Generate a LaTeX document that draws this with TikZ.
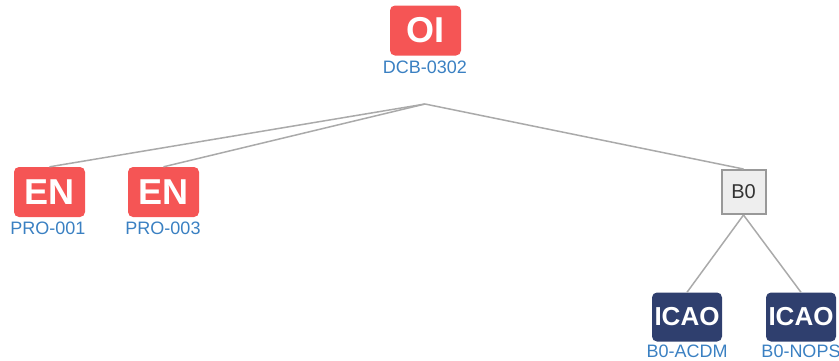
\documentclass[tikz,border=0pt]{standalone}
\usepackage{fontspec}
\setmainfont{Liberation Sans}
\definecolor{redbox}{HTML}{F55555}
\definecolor{navybox}{HTML}{2F3F6E}
\definecolor{lblue}{HTML}{3A80C2}
\definecolor{edgegray}{HTML}{AAAAAA}
\definecolor{bzfill}{HTML}{EEEEEE}
\definecolor{bzdraw}{HTML}{999999}
\begin{document}
\begin{tikzpicture}[x=1pt,y=-1pt,
  redstd/.style={fill=redbox,rounded corners=5pt,minimum width=71pt,minimum height=50pt,inner sep=0pt,text=white,font=\fontsize{36}{36}\selectfont\bfseries},
  navystd/.style={fill=navybox,rounded corners=5pt,minimum width=70pt,minimum height=49pt,inner sep=0pt,text=white,font=\fontsize{26}{26}\selectfont\bfseries},
  grpbox/.style={fill=bzfill,draw=bzdraw,line width=2pt,minimum width=44pt,minimum height=44pt,inner sep=0pt,font=\fontsize{20}{20}\selectfont,text=black!80},
  lbl/.style={text=lblue,inner sep=0pt,font=\fontsize{18}{18}\selectfont},
  edge/.style={draw=edgegray,line width=1.5pt}]
\useasboundingbox (0,0) rectangle (839,360);
\node[redstd] (oi) at (425.5,30.5) {OI};
\node[lbl] (oil) at (425,67) {DCB-0302};
\coordinate (hub) at (425,104);
\node[redstd] (en1) at (49.5,192) {EN};
\node[lbl] (en1l) at (48,228) {PRO-001};
\node[redstd] (en2) at (163.5,192) {EN};
\node[lbl] (en2l) at (163,228) {PRO-003};
\node[grpbox] (b0) at (743.5,192) {B0};
\node[navystd] (ic1) at (687,317) {ICAO};
\node[lbl] (ic1l) at (687,351) {B0-ACDM};
\node[navystd] (ic2) at (801,317) {ICAO};
\node[lbl] (ic2l) at (801,351) {B0-NOPS};
\draw[edge] (hub) -- (en1.north);
\draw[edge] (hub) -- (en2.north);
\draw[edge] (hub) -- (b0.north);
\draw[edge] (b0.south) -- (ic1.north);
\draw[edge] (b0.south) -- (ic2.north);
\end{tikzpicture}
\end{document}
